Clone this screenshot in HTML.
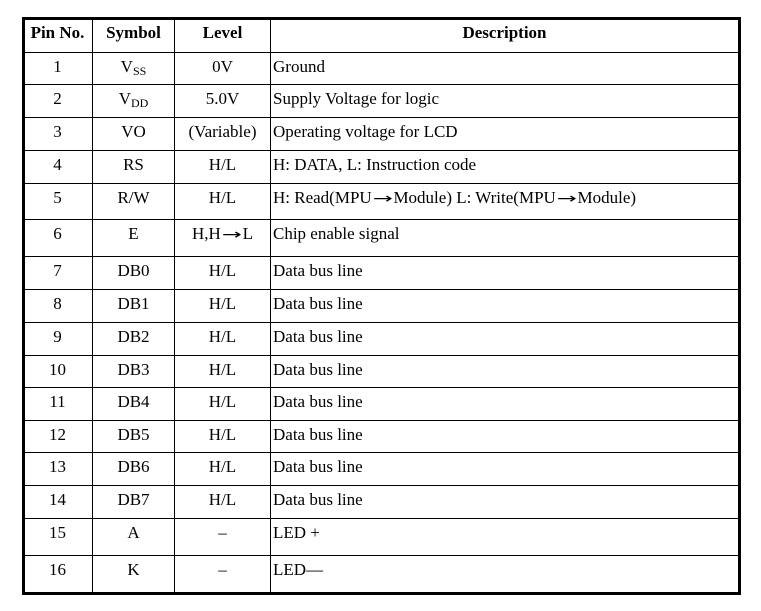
<!DOCTYPE html>
<html><head><style>
body{margin:0;background:#fff;width:761px;height:611px;position:relative;overflow:hidden;font-family:"Liberation Serif",serif;font-size:17px;color:#000}
.h{position:absolute;height:1px;background:#000;left:23px;width:716px}
.v{position:absolute;width:1px;background:#000;top:18px;height:576px}
.t{position:absolute;line-height:24px;white-space:nowrap}
.c{text-align:center}
sub{font-size:12px;vertical-align:-3px}
.a{font-family:"DejaVu Sans",sans-serif;font-size:14px;display:inline-block;transform:scaleX(1.7);margin:0 5px;font-weight:normal}
</style></head><body>
<div style="position:absolute;left:22px;top:17px;width:713px;height:572px;border:3px solid #000"></div>
<div class="v" style="left:92px"></div>
<div class="v" style="left:174px"></div>
<div class="v" style="left:270px"></div>
<div id="rows"></div>
<script>
var A='<span class="a">→</span>';
var ys=[52,84,117,150,183,219,256,289,322,355,387,420,452,485,518,555,592];
var data=[["1","V<sub>SS</sub>","0V","Ground"],["2","V<sub>DD</sub>","5.0V","Supply Voltage for logic"],["3","VO","(Variable)","Operating voltage for LCD"],["4","RS","H/L","H: DATA, L: Instruction code"],["5","R/W","H/L","H: Read(MPU"+A+"Module) L: Write(MPU"+A+"Module)"],["6","E","H,H"+A+"L","Chip enable signal"]];
for(var i=0;i<8;i++)data.push([""+(7+i),"DB"+i,"H/L","Data bus line"]);
data.push(["15","A","–","LED +"]);data.push(["16","K","–","LED—"]);
var h='';
for(var i=0;i<ys.length-1;i++)h+='<div class="h" style="top:'+ys[i]+'px"></div>';
function row(y,a,b,c,d,bold){var s=bold?'font-weight:bold;':'';
h+='<div class="t c" style="'+s+'left:23px;width:69px;top:'+y+'px">'+a+'</div>';
h+='<div class="t c" style="'+s+'left:93px;width:81px;top:'+y+'px">'+b+'</div>';
h+='<div class="t c" style="'+s+'left:175px;width:95px;top:'+y+'px">'+c+'</div>';
h+='<div class="t '+(bold?'c':'')+'" style="'+s+'left:'+(bold?271:273)+'px;'+(bold?'width:467px;':'')+'top:'+y+'px">'+d+'</div>';}
row(21,"Pin No.","Symbol","Level","Description",true);
for(var i=0;i<16;i++)row(ys[i]+3,data[i][0],data[i][1],data[i][2],data[i][3]);
document.getElementById('rows').innerHTML=h;
</script>
</body></html>
